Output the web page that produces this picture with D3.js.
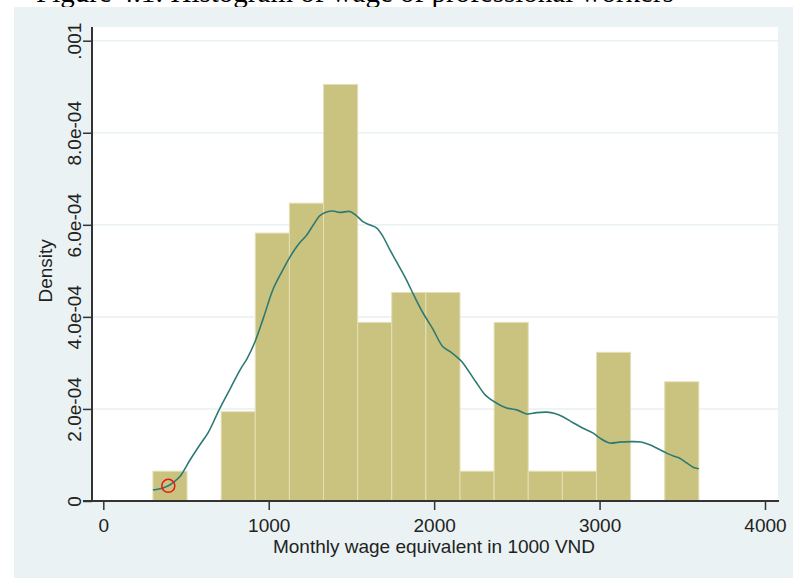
<!DOCTYPE html>
<html>
<head>
<meta charset="utf-8">
<script src="https://cdn.jsdelivr.net/npm/d3@7"></script>
<style>
  html, body { margin: 0; padding: 0; background: #ffffff; }
  svg { display: block; }
  text { font-family: "Liberation Sans", Arial, Helvetica, sans-serif; fill: #222; }
</style>
</head>
<body>
<svg id="chart" width="793" height="580"></svg>
<script>
// Histogram bins of monthly wage (1000 VND): edges and density per bin
const binEdges = [300, 506.25, 712.5, 918.75, 1125, 1331.25, 1537.5, 1743.75, 1950,
                  2156.25, 2362.5, 2568.75, 2775, 2981.25, 3187.5, 3393.75, 3600];
const binDensity = [6.47e-5, 0, 1.94e-4, 5.82e-4, 6.47e-4, 9.05e-4, 3.88e-4, 4.53e-4,
                    4.53e-4, 6.47e-5, 3.88e-4, 6.47e-5, 6.47e-5, 3.23e-4, 0, 2.59e-4];

// Kernel density estimate (wage, density)
const kdeWage = [300, 350, 393, 430, 463, 524, 580, 633, 700, 770, 827, 870, 917, 970,
                 1025, 1075, 1128, 1180, 1230, 1270, 1309, 1350, 1388, 1430, 1490, 1530,
                 1569, 1610, 1653, 1690, 1732, 1780, 1833, 1880, 1932, 1990, 2053, 2095,
                 2155, 2174, 2250, 2310, 2366, 2438, 2500, 2560, 2620, 2681, 2730, 2778,
                 2840, 2900, 2959, 3000, 3061, 3120, 3200, 3250, 3303, 3350, 3405, 3450,
                 3484, 3530, 3574, 3600];
const kdeDensity = [2.4e-5, 2.7e-5, 3.3e-5, 4.2e-5, 5.3e-5, 8.9e-5, 1.2e-4, 1.48e-4, 1.98e-4,
                    2.46e-4, 2.85e-4, 3.1e-4, 3.46e-4, 4.0e-4, 4.59e-4, 4.95e-4, 5.3e-4,
                    5.58e-4, 5.78e-4, 6.0e-4, 6.2e-4, 6.28e-4, 6.3e-4, 6.27e-4, 6.29e-4,
                    6.2e-4, 6.07e-4, 6.0e-4, 5.93e-4, 5.75e-4, 5.46e-4, 5.15e-4, 4.8e-4,
                    4.45e-4, 4.09e-4, 3.75e-4, 3.35e-4, 3.25e-4, 3.07e-4, 3.0e-4, 2.6e-4,
                    2.3e-4, 2.15e-4, 2.02e-4, 1.98e-4, 1.89e-4, 1.92e-4, 1.93e-4, 1.9e-4,
                    1.83e-4, 1.7e-4, 1.58e-4, 1.48e-4, 1.37e-4, 1.26e-4, 1.28e-4, 1.29e-4,
                    1.28e-4, 1.22e-4, 1.14e-4, 1.04e-4, 9.7e-5, 9.3e-5, 8.2e-5, 7.2e-5, 7.0e-5];

// Highlighted observation
const markerWage = [393];
const markerDensity = [3.3e-5];

// Axis ticks and labels
const xTicks = [0, 1000, 2000, 3000, 4000];
const yTicks = [0, 2e-4, 4e-4, 6e-4, 8e-4, 1e-3];
const yTickLabels = ["0", "2.0e-04", "4.0e-04", "6.0e-04", "8.0e-04", ".001"];

const titleText = "Figure 4.1: Histogram of wage of professional workers";
const xTitle = "Monthly wage equivalent in 1000 VND";
const yTitle = "Density";

const svg = d3.select("#chart");

const plot = { left: 92, right: 778, top: 27, bottom: 501 };
const x = d3.scaleLinear().domain([0, 4000]).range([103.3, 765]);
const y = d3.scaleLinear().domain([0, 0.001]).range([501, 40.7]);

// Page title (partly outside the frame)
svg.append("text")
  .attr("x", 36).attr("y", 2)
  .style("font-family", "'Liberation Serif', 'Times New Roman', serif")
  .style("font-size", "29px").style("fill", "#000")
  .text(titleText);

// Outer graph region
svg.append("rect")
  .attr("x", 14).attr("y", 7).attr("width", 793 - 14).attr("height", 578 - 7)
  .attr("fill", "#eaf2f3");

// Plot region
svg.append("rect")
  .attr("x", plot.left).attr("y", plot.top)
  .attr("width", plot.right - plot.left).attr("height", plot.bottom - plot.top)
  .attr("fill", "#ffffff");

// Horizontal grid lines
svg.append("g").selectAll("line")
  .data(yTicks.filter(d => d > 0))
  .join("line")
  .attr("x1", plot.left).attr("x2", plot.right)
  .attr("y1", d => y(d)).attr("y2", d => y(d))
  .attr("stroke", "#e8f1f2").attr("stroke-width", 1.5);

// Histogram bars
const bins = binDensity.map((d, i) => ({ x0: binEdges[i], x1: binEdges[i + 1], d }));
svg.append("g").selectAll("rect")
  .data(bins.filter(b => b.d > 0))
  .join("rect")
  .attr("x", b => x(b.x0))
  .attr("width", b => x(b.x1) - x(b.x0))
  .attr("y", b => y(b.d))
  .attr("height", b => y(0) - y(b.d))
  .attr("fill", "#cac27f")
  .attr("stroke", "#e4dfb6")
  .attr("stroke-width", 1);

// Density curve
const kde = kdeWage.map((w, i) => [w, kdeDensity[i]]);
svg.append("path")
  .datum(kde)
  .attr("fill", "none")
  .attr("stroke", "#2d7a74")
  .attr("stroke-width", 1.6)
  .attr("d", d3.line().x(d => x(d[0])).y(d => y(d[1])).curve(d3.curveCatmullRom));

// Marker circle
svg.append("g").selectAll("circle")
  .data(markerWage.map((w, i) => [w, markerDensity[i]]))
  .join("circle")
  .attr("cx", d => x(d[0])).attr("cy", d => y(d[1]))
  .attr("r", 6.5)
  .attr("fill", "none").attr("stroke", "#e8141b").attr("stroke-width", 1.5);

// X axis
const xAxis = svg.append("g")
  .attr("transform", `translate(0,${plot.bottom})`)
  .call(d3.axisBottom(x).tickValues(xTicks).tickFormat(d3.format("d")).tickSize(9).tickSizeOuter(0));
xAxis.select(".domain").remove();
xAxis.append("line")
  .attr("x1", plot.left - 9).attr("x2", plot.right + 1)
  .attr("stroke", "#333").attr("stroke-width", 2);
xAxis.selectAll(".tick line").attr("stroke", "#333").attr("stroke-width", 1.5);
xAxis.selectAll(".tick text")
  .attr("y", 31).attr("dy", null)
  .style("font-size", "19px").style("fill", "#222")
  .style("font-family", "'Liberation Sans', Arial, sans-serif");

// Y axis
const yAxis = svg.append("g")
  .attr("transform", `translate(${plot.left},0)`)
  .call(d3.axisLeft(y).tickValues(yTicks).tickFormat((d, i) => yTickLabels[i]).tickSize(9).tickSizeOuter(0));
yAxis.select(".domain").remove();
yAxis.append("line")
  .attr("y1", plot.top).attr("y2", plot.bottom + 1)
  .attr("stroke", "#333").attr("stroke-width", 2);
yAxis.selectAll(".tick line").attr("stroke", "#333").attr("stroke-width", 1.5);
yAxis.selectAll(".tick text")
  .attr("x", null).attr("dy", null)
  .attr("text-anchor", "middle")
  .attr("transform", "translate(-11,0) rotate(-90)")
  .style("font-size", "19px").style("fill", "#222")
  .style("font-family", "'Liberation Sans', Arial, sans-serif");

// Axis titles
svg.append("text")
  .attr("x", 434).attr("y", 553)
  .attr("text-anchor", "middle")
  .style("font-size", "19px")
  .text(xTitle);

svg.append("text")
  .attr("transform", `translate(52,${y(0.0005)}) rotate(-90)`)
  .attr("text-anchor", "middle")
  .style("font-size", "19px")
  .text(yTitle);
</script>
</body>
</html>
